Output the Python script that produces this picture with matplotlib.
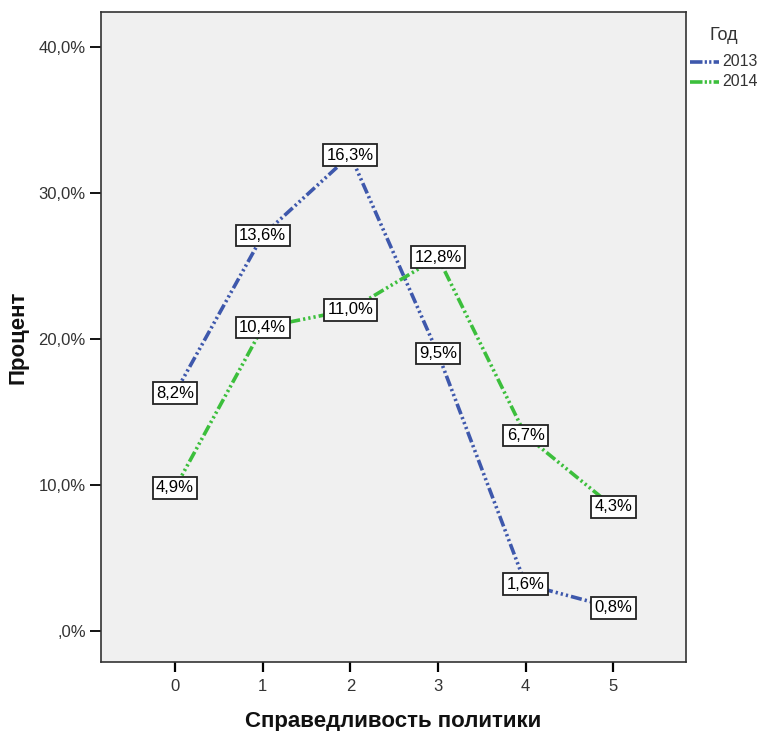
import matplotlib
matplotlib.use("Agg")
import matplotlib.pyplot as plt
from matplotlib.lines import Line2D

plt.rcParams['font.family'] = ['Liberation Sans', 'DejaVu Sans']
plt.rcParams['lines.scale_dashes'] = False

categories = [0, 1, 2, 3, 4, 5]
series_names = ['2013', '2014']
y_2013 = [16.3, 27.1, 32.6, 19.0, 3.2, 1.6]
y_2014 = [9.8, 20.8, 22.0, 25.6, 13.4, 8.5]
labels_2013 = ['8,2%', '13,6%', '16,3%', '9,5%', '1,6%', '0,8%']
labels_2014 = ['4,9%', '10,4%', '11,0%', '12,8%', '6,7%', '4,3%']
yticks = [0, 10, 20, 30, 40]
ytick_labels = [',0%', '10,0%', '20,0%', '30,0%', '40,0%']

colors = ['#3E58AC', '#3CBF3C']
dash = (0, (8, 2.2, 1.6, 2.2, 1.6, 2.2, 1.6, 2.2))

W, H = 761, 731
fig = plt.figure(figsize=(W / 100, H / 100), dpi=100)
ax = fig.add_axes([101/W, 69/H, 585/W, 650/H])
ax.set_facecolor('#F0F0F0')

for ys, labs, c in [(y_2013, labels_2013, colors[0]), (y_2014, labels_2014, colors[1])]:
    ax.plot(categories, ys, color=c, lw=2.6, linestyle=dash, zorder=2)
    for x, y, t in zip(categories, ys, labs):
        ax.text(x, y, t, ha='center', va='center', fontsize=12, color='black', zorder=3,
                bbox=dict(boxstyle='square,pad=0.2', facecolor='white', edgecolor='#222222', lw=1.3))

ax.set_xlim(-0.845, 5.83)
ax.set_ylim(-2.12, 42.4)
ax.set_xticks(categories)
ax.set_xticklabels([str(c) for c in categories])
ax.set_yticks(yticks)
ax.set_yticklabels(ytick_labels)
ax.tick_params(axis='y', direction='out', length=8, width=1.3, labelsize=12, labelcolor='#333333', pad=3)
ax.tick_params(axis='x', direction='out', length=7.5, width=1.6, labelsize=12, labelcolor='#333333', pad=5)
for s in ax.spines.values():
    s.set_color('#333333')
    s.set_linewidth(1.2)

ax.set_xlabel('Справедливость политики', fontsize=16, fontweight='bold', labelpad=12, color='#111111')
ax.set_ylabel('Процент', fontsize=16, fontweight='bold', labelpad=7, color='#111111')

# legend (outside, right)
fig.text(724/W, 1 - 35/H, 'Год', ha='center', va='center', fontsize=13, color='#333333')
leg_dash = (0, (9, 1.6, 1.6, 1.6, 1.6, 1.6))
for i, (name, c) in enumerate(zip(series_names, colors)):
    yy = 1 - (62 + 20 * i) / H
    fig.add_artist(Line2D([690/W, 719/W], [yy, yy], transform=fig.transFigure,
                          color=c, lw=2.6, linestyle=leg_dash))
    fig.text(722/W, yy, name, ha='left', va='center', fontsize=11.5, color='#333333')

fig.savefig('out.png', dpi=100, facecolor='white')
